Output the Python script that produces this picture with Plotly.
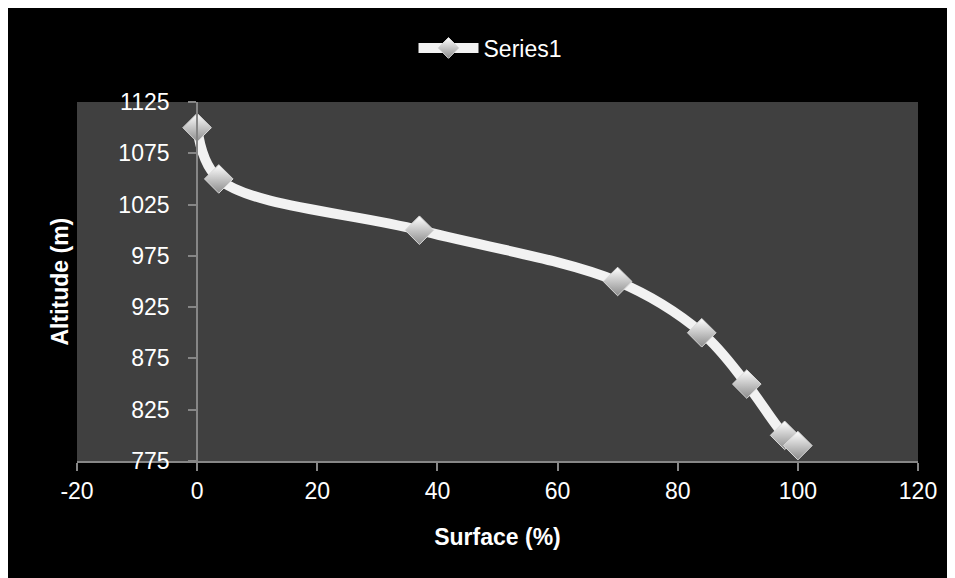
import plotly.graph_objects as go

surface = [0, 3.6, 37, 70, 84, 91.5, 97.8, 100]
altitude = [1100, 1050, 1000, 950, 900, 850, 800, 790]
x_ticks = [-20, 0, 20, 40, 60, 80, 100, 120]
y_ticks = [775, 825, 875, 925, 975, 1025, 1075, 1125]

FONT = "Liberation Sans"
OFF = 8  # page body margin
W, H = 955 - OFF, 578 - OFF
L, T = 77 - OFF, 102 - OFF
R = W - (918 - OFF)
B = H - (461 - OFF)
pw = W - L - R
ph = H - T - B

fig = go.Figure()
fig.add_trace(go.Scatter(
    x=surface, y=altitude, name="Series1",
    mode="lines+markers",
    line=dict(color="#f2f2f2", width=10, shape="spline", smoothing=1),
    marker=dict(symbol="diamond", size=22, color="#ffffff",
                gradient=dict(type="vertical", color="#8c8c8c"),
                line=dict(color="#d9d9d9", width=1)),
))

# y axis crosses at x = 0
ypos = (0 - (-20)) / 140.0

fig.update_layout(
    width=W, height=H,
    margin=dict(l=L, r=R, t=T, b=B),
    paper_bgcolor="black",
    plot_bgcolor="#404040",
    font=dict(family=FONT, size=23, color="white"),
    showlegend=True,
    legend=dict(orientation="h", x=(490 - 77) / pw, xanchor="center",
                y=(461 - 48) / ph, yanchor="middle",
                font=dict(family=FONT, size=23, color="white"),
                bgcolor="rgba(0,0,0,0)", itemwidth=60),
    xaxis=dict(range=[-20, 120], tickvals=x_ticks, ticktext=[str(v) for v in x_ticks],
               showgrid=False, zeroline=False, showline=True, linecolor="#868686", linewidth=2,
               ticks="outside", ticklen=8, tickcolor="#868686", tickwidth=2,
               tickfont=dict(family=FONT, size=23, color="white"),
               ticklabelstandoff=0,
               title=dict(text="<b>Surface (%)</b>", font=dict(family=FONT, size=23, color="white"),
                          standoff=26)),
    yaxis=dict(range=[775, 1125], tickvals=y_ticks, ticktext=[str(v) for v in y_ticks],
               anchor="free", position=ypos, side="left",
               showgrid=False, zeroline=False, showline=True, linecolor="#868686", linewidth=2,
               ticks="outside", ticklen=8, tickcolor="#868686", tickwidth=2,
               tickfont=dict(family=FONT, size=23, color="white"),
               ticklabelstandoff=14),
    annotations=[dict(text="<b>Altitude (m)</b>", xref="paper", yref="paper",
                      x=(59 - 77) / pw, y=0.5, xanchor="center", yanchor="middle",
                      textangle=-90, showarrow=False,
                      font=dict(family=FONT, size=23, color="white"))],
)

fig.write_html("out.html")
